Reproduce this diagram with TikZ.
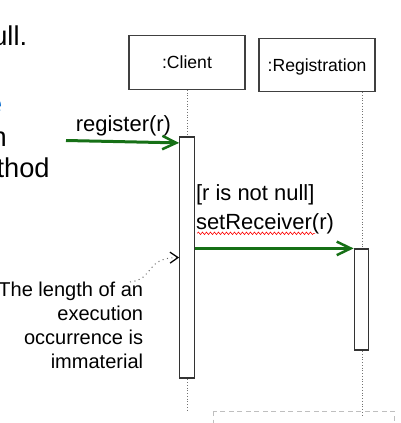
\documentclass[tikz,border=0pt]{standalone}
\usepackage{fontspec}
\setmainfont{Liberation Sans}
\usetikzlibrary{arrows.meta, positioning, decorations.pathmorphing}
\definecolor{msggreen}{RGB}{22,112,22}
\definecolor{linkblue}{RGB}{0,102,204}

\begin{document}
\begin{tikzpicture}[x=0.02cm, y=-0.02cm]
\tikzset{
  object/.style={draw=black!75, line width=0.025cm, minimum width=2.32cm, minimum height=1.07cm, inner sep=0pt, text depth=0pt, font=\fontsize{10}{12}\selectfont},
  activation/.style={draw=black!80, fill=white, line width=0.025cm, minimum width=0.29cm, inner sep=0pt},
  lifeline/.style={black!55, densely dotted, line width=0.02cm},
  message/.style={msggreen, line width=0.06cm, -{Straight Barb[length=0.28cm, width=0.27cm, line width=0.05cm]}},
  msglabel/.style={inner sep=0pt, anchor=base west, font=\fontsize{12.5}{15}\selectfont},
  note/.style={inner sep=0pt, align=right, font=\fontsize{11.4}{13.6}\selectfont},
  annot/.style={black!60, dotted, line width=0.02cm, -{Straight Barb[length=0.16cm, width=0.22cm, line width=0.025cm, color=black]}},
  slidetext/.style={inner sep=0pt, anchor=base east, font=\fontsize{15.5}{18}\selectfont}
}

\useasboundingbox (0,0) rectangle (400,423);
\clip (0,0) rectangle (400,423);

% slide text cut off at the left
\node[slidetext] (null) at (27.5,45) {ull.};
\node[slidetext, text=linkblue] (blue) at (2.5,113) {e};
\node[slidetext] (line3) at (7,146) {n};
\node[slidetext] (method) at (50,177) {thod};

\draw[black!25, dash pattern=on 0.1cm off 0.07cm, line width=0.02cm] (213,411) rectangle (394,440);

\node[object] (client) at (187,62.5) {:Client};
\node[object] (registration) at (317,65) {:Registration};

\coordinate (clientend) at (187,412);
\coordinate (regtop) at (362,92);
\coordinate (regend) at (362,417);
\draw[lifeline] (client.south) -- (clientend);
\draw[lifeline] (regtop) -- (regend);

\node[activation, minimum height=4.82cm] (clientbar) at (187,257.5) {};
\node[activation, minimum height=2.02cm] (regbar) at (361.5,299.5) {};

\coordinate (caller) at (66,140.5);
\draw[message] (caller) -- ([yshift=-0.13cm]clientbar.north west);
\node[msglabel] (register) at (75.5,131.7) {register(r)};

\draw[message] (clientbar.east |- regbar.north) -- (regbar.north west);
\node[msglabel] (guard) at (195.7,200.8) {[r is not null]};
\node[msglabel] (setrecv) at (195.7,229.3) {setReceiver(r)};
\draw[red, line width=0.012cm, decorate, decoration={snake, amplitude=0.025cm, segment length=0.08cm}] ([xshift=0.03cm, yshift=-0.08cm]setrecv.base west) -- +(118,0);

% note on the execution occurrence
\node[note, anchor=north east] (note) at (143.5,282) {The length of an\\execution\\occurrence is\\immaterial};
\draw[annot] ([xshift=-0.27cm]note.north east) .. controls +(25,-3) and +(-35,0.5) .. (clientbar.west);
\end{tikzpicture}
\end{document}
